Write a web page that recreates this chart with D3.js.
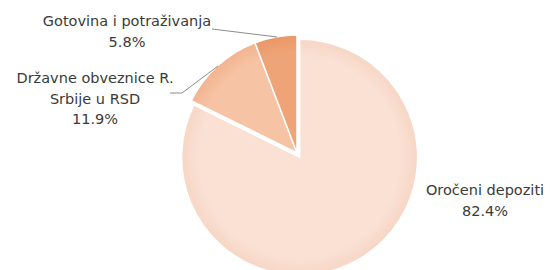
<!DOCTYPE html>
<html>
<head>
<meta charset="utf-8">
<script src="https://cdn.jsdelivr.net/npm/d3@7"></script>
<style>
  body { margin: 0; background: #fff; }
  text { font-family: "DejaVu Sans", sans-serif; fill: #3a3a3a; }
</style>
</head>
<body>
<script>
var w = 550;
var h = 270;

// data
var categories = ["Oročeni depoziti", "Državne obveznice R. Srbije u RSD", "Gotovina i potraživanja"];
var shares = [82.4, 11.9, 5.8];
var colors = ["#FAE1D4", "#F6C3A4", "#EFA477"];
var edgeColors = ["#F7D6C5", "#F2B490", "#EA9766"];

var cx = 297, cy = 153, radius = 118;

var svg = d3.select("body").append("svg").attr("width", w).attr("height", h);

var defs = svg.append("defs");
colors.forEach(function(c, i) {
  var g = defs.append("radialGradient")
    .attr("id", "grad" + i)
    .attr("gradientUnits", "userSpaceOnUse")
    .attr("cx", 0).attr("cy", 0).attr("r", radius);
  g.append("stop").attr("offset", "0%").attr("stop-color", c);
  g.append("stop").attr("offset", "85%").attr("stop-color", c);
  g.append("stop").attr("offset", "100%").attr("stop-color", edgeColors[i]);
});

var pie = d3.pie().sort(null).value(function(d) { return d; });
var arc = d3.arc().innerRadius(0).outerRadius(radius);
var arcs = pie(shares);

var g = svg.append("g").attr("transform", "translate(" + cx + "," + cy + ")");

// the big slice is pulled out a little
var explode = [5, 0, 0];

g.selectAll("path")
  .data(arcs)
  .enter().append("path")
  .attr("d", arc)
  .attr("fill", function(d, i) { return "url(#grad" + i + ")"; })
  .attr("stroke", "white")
  .attr("stroke-width", 1.5)
  .attr("transform", function(d, i) {
    var a = (d.startAngle + d.endAngle) / 2;
    return "translate(" + (Math.sin(a) * explode[i]) + "," + (-Math.cos(a) * explode[i]) + ")";
  });

// labels
var labels = [
  { lines: ["Oročeni depoziti", "82.4%"], x: 485, y: 190 },
  { lines: ["Državne obveznice R.", "Srbije u RSD", "11.9%"], x: 95, y: 78 },
  { lines: ["Gotovina i potraživanja", "5.8%"], x: 127, y: 21 }
];

labels.forEach(function(l) {
  var t = svg.append("text")
    .attr("text-anchor", "middle")
    .attr("font-size", "14.5px");
  l.lines.forEach(function(s, j) {
    t.append("tspan").attr("x", l.x).attr("y", l.y + 5 + j * 20.5).text(s);
  });
});

// leader lines
var leaders = [
  [[212, 29], [277, 37]],
  [[170, 93], [182, 93], [218, 66]]
];
svg.selectAll(".leader")
  .data(leaders)
  .enter().append("path")
  .attr("class", "leader")
  .attr("d", d3.line())
  .attr("fill", "none")
  .attr("stroke", "#8c8c8c")
  .attr("stroke-width", 1);
</script>
</body>
</html>
